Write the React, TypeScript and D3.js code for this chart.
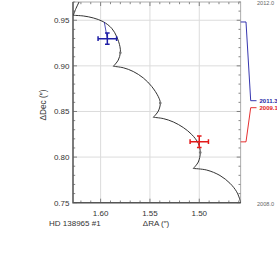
import { useEffect, useRef } from 'react'
import * as d3 from 'd3'

type Pt = [number, number]

// apparent motion path (RA, Dec in arcsec), split at the cusps, from 2012 down to 2008
const arcTop: Pt[] = [[1.6277, 0.9554], [1.6250, 0.9629], [1.6219, 0.9700], [1.6199, 0.9755]]
const arc2011: Pt[] = [
  [1.6277, 0.9554], [1.6176, 0.9547], [1.6074, 0.9525], [1.5973, 0.9484], [1.5888, 0.9412],
  [1.5837, 0.9320], [1.5804, 0.9210], [1.5800, 0.9144], [1.5821, 0.9064], [1.5871, 0.8995],
]
const arc2010: Pt[] = [
  [1.5871, 0.8995], [1.5770, 0.8979], [1.5669, 0.8938], [1.5567, 0.8867], [1.5482, 0.8774],
  [1.5415, 0.8662], [1.5395, 0.8593], [1.5415, 0.8505], [1.5466, 0.8436],
]
const arc2009: Pt[] = [
  [1.5466, 0.8436], [1.5365, 0.8422], [1.5263, 0.8385], [1.5162, 0.8324], [1.5077, 0.8248],
  [1.5010, 0.8151], [1.4990, 0.8050], [1.5010, 0.7946], [1.5061, 0.7875],
]
const arc2008: Pt[] = [
  [1.5061, 0.7875], [1.4925, 0.7858], [1.4790, 0.7798], [1.4689, 0.7713], [1.4621, 0.7620],
  [1.4587, 0.7530], [1.4580, 0.7497], [1.4576, 0.7464],
]
const pathArcs = [arcTop, arc2011, arc2010, arc2009, arc2008]

const yearDots: Pt[] = [[1.5800, 0.9144], [1.5395, 0.8593], [1.4990, 0.8050]]

// measured positions
const epochs = ['2011.3', '2009.1']
const measRA = [1.5932, 1.5000]
const measDec = [0.9298, 0.8169]
const errRA = [0.0094, 0.0093]
const errDec = [0.0062, 0.0063]
const predRA = [1.5963, 1.5008]
const predDec = [0.9481, 0.8167]
const epochColors = ['#1f1fa6', '#e31a1a']
const labelY = [100.7, 107.7]

const timeEnds = ['2012.0', '2008.0']
const raMajor = [1.60, 1.55, 1.50]
const decMajor = [0.75, 0.80, 0.85, 0.90, 0.95]

export default function App() {
  const svgRef = useRef<SVGSVGElement>(null)

  useEffect(() => {
    if (!svgRef.current) return
    const svg = d3.select(svgRef.current)
    svg.selectAll('*').remove()

    const left = 73, right = 240.7, top = 2, bottom = 202.7
    const x = d3.scaleLinear().domain([1.628, 1.458]).range([left, right])
    const y = d3.scaleLinear().domain([0.75, 0.97]).range([bottom, top])
    const font = 'Liberation Sans, Arial, sans-serif'
    const isMajor = (v: number, majors: number[]) => majors.some(m => Math.abs(m - v) < 1e-6)

    svg.append('defs').append('clipPath').attr('id', 'plotclip')
      .append('rect').attr('x', left).attr('y', top).attr('width', right - left).attr('height', bottom - top)

    // grid
    svg.append('g').selectAll('line.gx').data(raMajor).join('line')
      .attr('x1', d => x(d)).attr('x2', d => x(d)).attr('y1', top).attr('y2', bottom)
      .attr('stroke', '#dcdcdc').attr('stroke-width', 1)
    svg.append('g').selectAll('line.gy').data(decMajor.filter(d => d > 0.75)).join('line')
      .attr('x1', left).attr('x2', right).attr('y1', d => y(d)).attr('y2', d => y(d))
      .attr('stroke', '#dcdcdc').attr('stroke-width', 1)

    // ticks on all four sides
    const xt = x.ticks(17)
    const yt = y.ticks(22)
    const ticks = svg.append('g').attr('stroke', '#666').attr('stroke-width', 0.8)
    xt.forEach(v => {
      const len = isMajor(v, raMajor) ? 4 : 2.2
      ticks.append('line').attr('x1', x(v)).attr('x2', x(v)).attr('y1', bottom).attr('y2', bottom - len)
      ticks.append('line').attr('x1', x(v)).attr('x2', x(v)).attr('y1', top).attr('y2', top + len)
    })
    yt.forEach(v => {
      const len = isMajor(v, decMajor) ? 4 : 2.2
      ticks.append('line').attr('x1', left).attr('x2', left + len).attr('y1', y(v)).attr('y2', y(v))
      ticks.append('line').attr('x1', right).attr('x2', right - len).attr('y1', y(v)).attr('y2', y(v))
    })

    // frame
    svg.append('rect').attr('x', left).attr('y', top).attr('width', right - left).attr('height', bottom - top)
      .attr('fill', 'none').attr('stroke', '#999').attr('stroke-width', 0.8)
    svg.append('path')
      .attr('d', `M${left},${top}V${bottom}H${right}`)
      .attr('fill', 'none').attr('stroke', '#555').attr('stroke-width', 1.4)

    // tick labels
    svg.append('g').selectAll('text').data(decMajor).join('text')
      .attr('x', left - 3.5).attr('y', d => y(d)).attr('dy', '0.36em')
      .attr('text-anchor', 'end').attr('font-family', font).attr('font-size', 8).attr('fill', '#333')
      .text(d => d.toFixed(2))
    svg.append('g').selectAll('text').data(raMajor).join('text')
      .attr('x', d => x(d)).attr('y', 215.8)
      .attr('text-anchor', 'middle').attr('font-family', font).attr('font-size', 8).attr('fill', '#333')
      .text(d => d.toFixed(2))

    // axis titles
    svg.append('text').attr('transform', `translate(46,105) rotate(-90)`)
      .attr('text-anchor', 'middle').attr('font-family', font).attr('font-size', 8.3).attr('fill', '#333')
      .text('ΔDec (″)')
    svg.append('text').attr('x', 156).attr('y', 226)
      .attr('text-anchor', 'middle').attr('font-family', font).attr('font-size', 8).attr('fill', '#333')
      .text('ΔRA (″)')
    svg.append('text').attr('x', 49).attr('y', 225.5)
      .attr('font-family', font).attr('font-size', 8).attr('fill', '#333')
      .text('HD 138965 #1')

    // motion path
    const line = d3.line<Pt>().x(d => x(d[0])).y(d => y(d[1])).curve(d3.curveCatmullRom.alpha(0.5))
    const plot = svg.append('g').attr('clip-path', 'url(#plotclip)')
    plot.selectAll('path.arc').data(pathArcs).join('path')
      .attr('d', d => line(d))
      .attr('fill', 'none').attr('stroke', '#333').attr('stroke-width', 1)
    plot.selectAll('circle.yr').data(yearDots).join('circle')
      .attr('cx', d => x(d[0])).attr('cy', d => y(d[1])).attr('r', 1.3).attr('fill', '#777')

    // measurements
    epochs.forEach((_, i) => {
      const c = epochColors[i]
      const cx = x(measRA[i]), cy = y(measDec[i])
      const g = plot.append('g').attr('stroke', c).attr('fill', 'none')
      g.append('line').attr('x1', x(predRA[i])).attr('y1', y(predDec[i])).attr('x2', cx).attr('y2', cy)
        .attr('stroke-width', 0.8)
      const x0 = x(measRA[i] + errRA[i]), x1 = x(measRA[i] - errRA[i])
      const y0 = y(measDec[i] + errDec[i]), y1 = y(measDec[i] - errDec[i])
      g.append('path')
        .attr('d', `M${x0},${cy}H${x1}M${cx},${y0}V${y1}` +
          `M${x0},${cy - 2.3}V${cy + 2.3}M${x1},${cy - 2.3}V${cy + 2.3}` +
          `M${cx - 2.3},${y0}H${cx + 2.3}M${cx - 2.3},${y1}H${cx + 2.3}`)
        .attr('stroke-width', 1.5)
    })

    // epoch labels on the right
    svg.append('text').attr('x', 257).attr('y', 4.5)
      .attr('font-family', font).attr('font-size', 5.6).attr('fill', '#666').text(timeEnds[0])
    svg.append('text').attr('x', 257).attr('y', 206)
      .attr('font-family', font).attr('font-size', 5.6).attr('fill', '#666').text(timeEnds[1])
    epochs.forEach((ep, i) => {
      const c = epochColors[i]
      svg.append('path')
        .attr('d', `M${right},${y(predDec[i])}H246L250.7,${labelY[i]}H256.5`)
        .attr('fill', 'none').attr('stroke', c).attr('stroke-width', 0.9)
      svg.append('text').attr('x', 259.5).attr('y', labelY[i] + 2.2)
        .attr('font-family', font).attr('font-size', 6).attr('font-weight', 'bold').attr('fill', c)
        .text(ep)
    })
  }, [])

  return (
    <div>
      <svg ref={svgRef} width={277} height={269}
        style={{ position: 'absolute', left: 0, top: 0, background: '#fff' }} />
    </div>
  )
}
